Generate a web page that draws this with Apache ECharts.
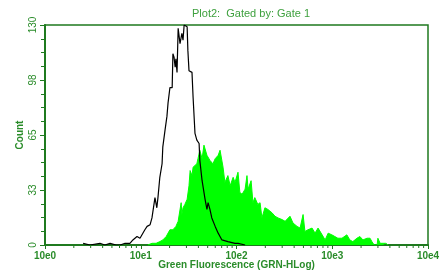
<!DOCTYPE html>
<html>
<head>
<meta charset="utf-8">
<script src="https://cdn.jsdelivr.net/npm/echarts@6/dist/echarts.min.js"></script>
<style>
  html, body { margin: 0; padding: 0; background: #fff; }
  #chart { width: 444px; height: 271px; }
</style>
</head>
<body>
<div id="chart"></div>
<script>
// GRN-HLog channels (0..1024 = 4 decades) and event counts
const controlChannels = [102, 120, 147, 160, 174, 190, 201, 214, 227, 235, 246, 254, 267, 273, 281, 286, 289, 294, 299, 302,
  307, 313, 315, 321, 326, 329, 334, 340, 342, 345, 348, 350, 353, 356, 361, 366, 369, 372, 377, 380,
  382, 385, 393, 396, 401, 406, 412, 414, 420, 422, 428, 433, 436, 441, 446, 455, 463, 473, 489, 508,
  516, 535];
const controlCounts = [1, 0, 1, 0, 1, 0, 0, 1, 1, 3, 5, 4, 9, 11, 12, 16, 17, 28, 22, 28,
  40, 48, 58, 68, 76, 84, 93, 93, 113, 111, 105, 110, 102, 128, 119, 125, 121, 130, 129, 129,
  115, 103, 102, 87, 66, 62, 60, 50, 38, 37, 27, 21, 25, 21, 16, 11, 7, 3, 2, 1,
  1, 0];

const stainedChannels = [275, 286, 297, 307, 315, 324, 334, 342, 350, 356, 364, 366, 369, 374, 380, 385, 388, 393, 396, 401,
  406, 409, 414, 420, 425, 433, 436, 441, 446, 449, 455, 460, 463, 468, 471, 476, 481, 489, 495, 500,
  503, 508, 513, 516, 521, 527, 529, 535, 540, 543, 551, 556, 561, 569, 575, 580, 588, 596, 607, 615,
  623, 634, 642, 647, 655, 663, 674, 682, 690, 695, 703, 714, 722, 730, 741, 749, 757, 767, 775, 783,
  794, 807, 815, 823, 834, 842, 850, 861, 869, 874, 880, 888, 890, 896, 904, 912, 917];
const stainedCounts = [0, 1, 1, 2, 3, 5, 9, 9, 11, 14, 25, 18, 22, 24, 27, 35, 44, 41, 46, 47,
  48, 51, 56, 51, 59, 53, 54, 50, 49, 48, 51, 52, 53, 56, 57, 46, 37, 41, 35, 35,
  40, 37, 37, 43, 31, 30, 31, 33, 41, 33, 38, 25, 28, 24, 25, 16, 22, 21, 19, 17,
  16, 15, 14, 15, 17, 13, 11, 10, 18, 8, 9, 10, 7, 10, 6, 3, 7, 6, 5, 4,
  4, 6, 3, 2, 4, 5, 3, 4, 4, 2, 0, 0, 4, 1, 1, 1, 0];

const xTickLabels = ['10e0', '10e1', '10e2', '10e3', '10e4'];
const yTickLabels = ['0', '33', '65', '98', '130'];

const axisGreen = '#1f7a1f';
const labelGreen = '#2a8c2a';
const font = 'Liberation Sans, Arial, sans-serif';

// log-spaced minor ticks (2..9 in each decade)
const minorTicks = [];
for (let d = 0; d < 4; d++) {
  for (let k = 2; k <= 9; k++) minorTicks.push([256 * (d + Math.log10(k)), 0]);
}

const chart = echarts.init(document.getElementById('chart'));
chart.setOption({
  animation: false,
  backgroundColor: '#fff',
  title: {
    text: 'Plot2:  Gated by: Gate 1',
    left: 187,
    top: 3,
    textStyle: { color: '#3ea03e', fontSize: 11, fontWeight: 'normal', fontFamily: font }
  },
  grid: {
    left: 45, right: 16, top: 25, bottom: 26,
    outerBoundsMode: 'none',
    containLabel: false,
    show: true, borderColor: axisGreen, borderWidth: 1.5, backgroundColor: 'transparent'
  },
  xAxis: {
    type: 'value',
    min: 0, max: 1024, interval: 256,
    name: 'Green Fluorescence (GRN-HLog)',
    nameLocation: 'middle',
    nameGap: 15,
    nameMoveOverlap: false,
    nameTextStyle: { color: labelGreen, fontSize: 10, fontWeight: 'bold', fontFamily: font },
    axisLine: { lineStyle: { color: axisGreen, width: 2 } },
    axisTick: { length: 4, lineStyle: { color: axisGreen, width: 1 } },
    axisLabel: {
      color: labelGreen, fontSize: 10, fontWeight: 'bold', fontFamily: font, margin: 6,
      formatter: v => xTickLabels[Math.round(v / 256)]
    },
    splitLine: { show: false }
  },
  yAxis: {
    type: 'value',
    min: 0, max: 130, interval: 32.5,
    name: 'Count',
    nameLocation: 'middle',
    nameGap: 20,
    nameMoveOverlap: false,
    nameTextStyle: { color: labelGreen, fontSize: 10, fontWeight: 'bold', fontFamily: font },
    axisLine: { show: true, lineStyle: { color: axisGreen, width: 2 } },
    axisTick: { show: true, length: 5, lineStyle: { color: axisGreen, width: 1 } },
    minorTick: { show: true, splitNumber: 4, length: 4, lineStyle: { color: axisGreen, width: 1 } },
    axisLabel: {
      color: labelGreen, fontSize: 10, fontFamily: font, rotate: 90, margin: 7,
      formatter: v => yTickLabels[Math.round(v / 32.5)]
    },
    splitLine: { show: false }
  },
  series: [
    {
      type: 'line',
      data: stainedChannels.map((c, i) => [c, stainedCounts[i]]),
      showSymbol: false,
      lineStyle: { color: '#00ff00', width: 1 },
      areaStyle: { color: '#00ff00', opacity: 1 },
      z: 2
    },
    {
      type: 'line',
      data: controlChannels.map((c, i) => [c, controlCounts[i]]),
      showSymbol: false,
      lineStyle: { color: '#000', width: 1.2 },
      z: 3
    },
    {
      type: 'custom',
      data: minorTicks,
      silent: true,
      z: 4,
      renderItem: (params, api) => {
        const p = api.coord([api.value(0), 0]);
        return {
          type: 'line',
          shape: { x1: p[0], y1: p[1], x2: p[0], y2: p[1] + 3 },
          style: { stroke: axisGreen, lineWidth: 1 }
        };
      }
    }
  ]
});
</script>
</body>
</html>
